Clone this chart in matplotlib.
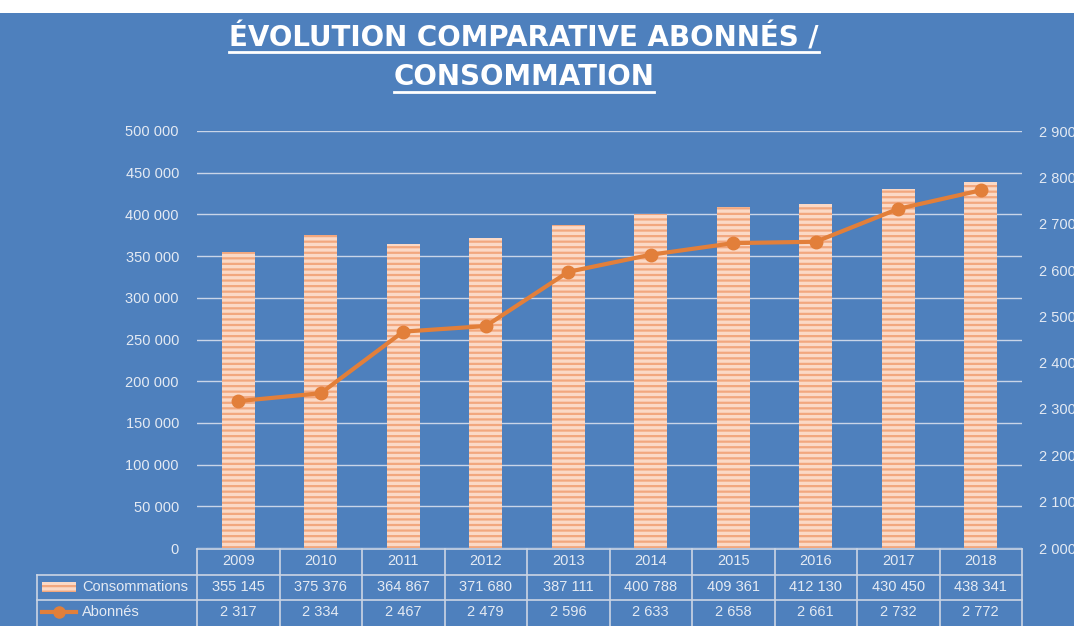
import matplotlib.pyplot as plt
import matplotlib.transforms as mtransforms
from matplotlib.lines import Line2D
from matplotlib.patches import Rectangle
from matplotlib.ticker import FuncFormatter, MultipleLocator

years = ["2009", "2010", "2011", "2012", "2013", "2014", "2015", "2016", "2017", "2018"]
consommations = [355145, 375376, 364867, 371680, 387111, 400788, 409361, 412130, 430450, 438341]
abonnes = [2317, 2334, 2467, 2479, 2596, 2633, 2658, 2661, 2732, 2772]

BLUE = "#4E80BD"
TXT = "#E4EAF3"
GRID = "#C9D5E8"
BAR_FACE = "#FBD9C6"
BAR_HATCH = "#F2A77E"
LINE = "#E27F3A"

W, H = 1074, 626
plt.rcParams["font.family"] = ["Liberation Sans", "DejaVu Sans"]
plt.rcParams["hatch.linewidth"] = 1.6


def sp(v):
    return f"{v:,}".replace(",", " ")


def fy(y):
    return 1 - y / H


fig = plt.figure(figsize=(W / 100, H / 100), dpi=100, facecolor="white")
fig.patches.append(Rectangle((0, 0), 1, fy(13), transform=fig.transFigure,
                             facecolor=BLUE, edgecolor="none", zorder=-10))

ax = fig.add_axes([197 / W, fy(548), (1022 - 197) / W, (548 - 131) / H])
ax.set_facecolor("none")
x = list(range(len(years)))
ax.bar(x, consommations, width=0.4, color=BAR_FACE, edgecolor=BAR_HATCH,
       hatch="---", linewidth=0, zorder=2)
ax.set_xlim(-0.5, len(years) - 0.5)
ax.set_ylim(0, 500000)
ax.yaxis.set_major_locator(MultipleLocator(50000))
ax.yaxis.set_major_formatter(FuncFormatter(lambda v, p: sp(int(v))))
ax.grid(axis="y", color=GRID, linewidth=1, zorder=0)
ax.set_axisbelow(True)
ax.set_xticks([])
for s in ax.spines.values():
    s.set_visible(False)
ax.tick_params(axis="y", length=0, pad=13, labelcolor=TXT, labelsize=10.5)

ax2 = ax.twinx()
ax2.plot(x, abonnes, color=LINE, linewidth=3, marker="o", markersize=9, zorder=3)
ax2.set_ylim(2000, 2900)
ax2.yaxis.set_major_locator(MultipleLocator(100))
ax2.yaxis.set_major_formatter(FuncFormatter(lambda v, p: sp(int(v))))
for s in ax2.spines.values():
    s.set_visible(False)
ax2.tick_params(axis="y", length=0, pad=12, labelcolor=TXT, labelsize=10.5)

# data table under the plot
tr = mtransforms.blended_transform_factory(ax.transData, fig.transFigure)
trf = fig.transFigure
lc = "#CBD5E4"
edges = [i - 0.5 for i in range(len(years) + 1)]
fig.add_artist(Line2D([edges[0], edges[-1]], [fy(549), fy(549)], transform=tr, color=lc, lw=1.2))
for yy in (575, 600):
    fig.add_artist(Line2D([37 / W, 1022 / W], [fy(yy), fy(yy)], transform=trf, color=lc, lw=1.2))
for e in edges:
    fig.add_artist(Line2D([e, e], [fy(549), 0], transform=tr, color=lc, lw=1.2))
fig.add_artist(Line2D([37 / W, 37 / W], [fy(575), 0], transform=trf, color=lc, lw=1.2))

for i in x:
    fig.text(i, fy(561), years[i], transform=tr, ha="center", va="center", color=TXT, fontsize=10.5)
    fig.text(i, fy(587), sp(consommations[i]), transform=tr, ha="center", va="center", color=TXT, fontsize=10.5)
    fig.text(i, fy(612), sp(abonnes[i]), transform=tr, ha="center", va="center", color=TXT, fontsize=10.5)

fig.patches.append(Rectangle((42 / W, fy(592)), 34 / W, 10 / H, transform=trf,
                             facecolor=BAR_FACE, edgecolor=BAR_HATCH, hatch="---", linewidth=0))
fig.add_artist(Line2D([42 / W, 76 / W], [fy(612), fy(612)], transform=trf, color=LINE, lw=3))
fig.add_artist(Line2D([59 / W], [fy(612)], transform=trf, color=LINE, marker="o", markersize=8))
fig.text(82 / W, fy(587), "Consommations", transform=trf, ha="left", va="center", color=TXT, fontsize=10.5)
fig.text(82 / W, fy(612), "Abonnés", transform=trf, ha="left", va="center", color=TXT, fontsize=10.5)

# title with underline
t1 = fig.text(524 / W, fy(38), "ÉVOLUTION COMPARATIVE ABONNÉS /", ha="center", va="center",
              color="white", fontsize=20, fontweight="bold", family="DejaVu Sans")
t2 = fig.text(524 / W, fy(77), "CONSOMMATION", ha="center", va="center",
              color="white", fontsize=20, fontweight="bold", family="DejaVu Sans")
fig.canvas.draw()
r = fig.canvas.get_renderer()
for t, yy in ((t1, 52), (t2, 92)):
    bb = t.get_window_extent(r)
    fig.add_artist(Line2D([bb.x0 / W, bb.x1 / W], [fy(yy), fy(yy)], transform=trf, color="white", lw=2))

fig.savefig("out.png", dpi=100, facecolor="white")
